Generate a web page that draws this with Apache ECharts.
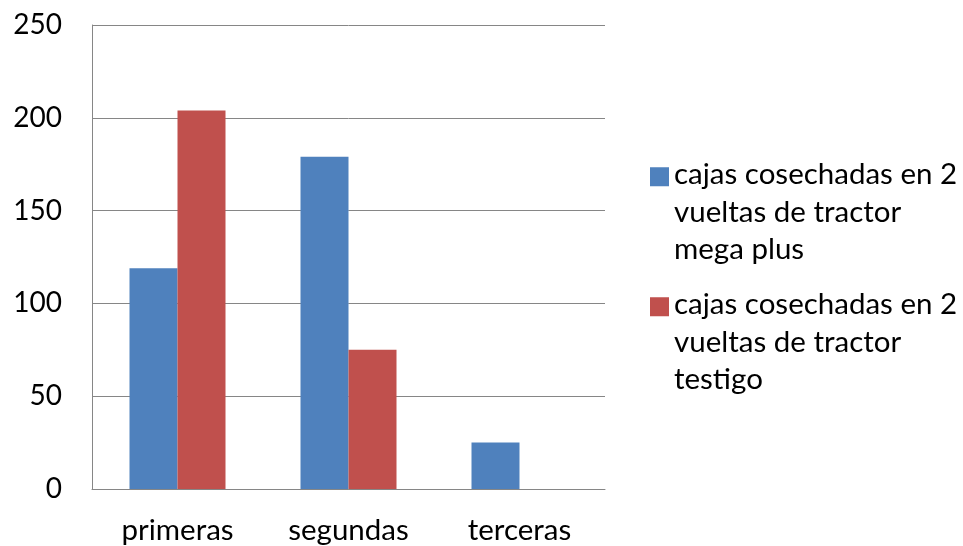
<!DOCTYPE html>
<html>
<head>
<meta charset="utf-8">
<script src="https://cdn.jsdelivr.net/npm/echarts@6/dist/echarts.min.js"></script>
<style>
  html, body { margin: 0; padding: 0; background: #fff; }
  #main { width: 963px; height: 546px; }
</style>
</head>
<body>
<div id="main"></div>
<script>
var categories = ['primeras', 'segundas', 'terceras'];
var seriesNames = [
  'cajas cosechadas en 2\nvueltas de tractor\nmega plus',
  'cajas cosechadas en 2\nvueltas de tractor\ntestigo'
];
var megaPlus = [119, 179, 25];
var testigo = [204, 75, 0];

var chart = echarts.init(document.getElementById('main'));

// square near the top of a tall box so the marker sits on the first text line
var legendIcon = 'path://M0,0L0.01,0 M0,11L19,11L19,30L0,30Z M0,112L0.01,112';

var option = {
  animation: false,
  textStyle: { fontFamily: 'Lato' },
  grid: { left: 92, right: 358, top: 25, bottom: 57 },
  legend: {
    orient: 'vertical',
    left: 645,
    top: 151,
    itemGap: 17.5,
    itemWidth: 19,
    itemHeight: 112,
    icon: legendIcon,
    textStyle: { fontSize: 29.5, color: '#000', lineHeight: 37.5, fontFamily: 'Lato' },
    data: seriesNames
  },
  xAxis: {
    type: 'category',
    data: categories,
    axisLine: { lineStyle: { color: '#868686', width: 1 } },
    axisTick: { show: false },
    axisLabel: { fontSize: 29.5, color: '#000', margin: 26 }
  },
  yAxis: {
    type: 'value',
    min: 0,
    max: 250,
    interval: 50,
    axisLine: { show: true, lineStyle: { color: '#868686', width: 1 } },
    axisTick: { show: false },
    axisLabel: { fontSize: 28, color: '#000', margin: 30 },
    splitLine: { lineStyle: { color: '#868686', width: 1 } }
  },
  series: [
    {
      name: seriesNames[0],
      type: 'bar',
      data: megaPlus,
      barWidth: 48,
      barGap: '0%',
      itemStyle: { color: '#4F81BD' }
    },
    {
      name: seriesNames[1],
      type: 'bar',
      data: testigo,
      barWidth: 48,
      barGap: '0%',
      itemStyle: { color: '#C0504D' }
    }
  ]
};

chart.setOption(option);
</script>
</body>
</html>
